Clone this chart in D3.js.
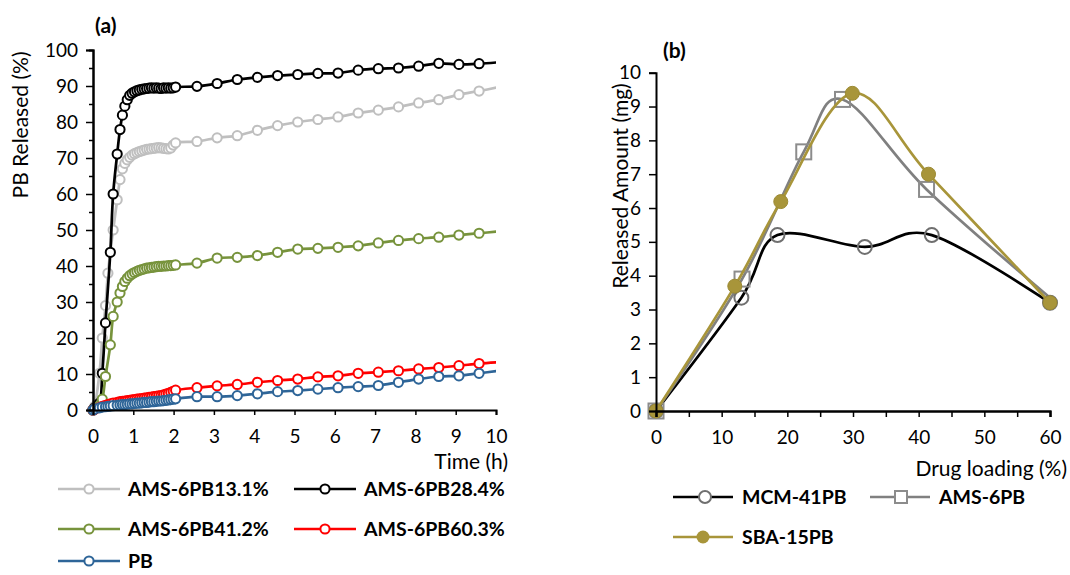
<!DOCTYPE html>
<html>
<head>
<meta charset="utf-8">
<script src="https://cdn.jsdelivr.net/npm/d3@7"></script>
<style>
  body { margin: 0; background: #fff; }
  text { font-family: Lato, "Open Sans", sans-serif; fill: #000; }
</style>
</head>
<body>
<svg id="chart" width="1070" height="575"></svg>
<script>
// ---- panel (a) data: release over time ----
var timeH = [0, 0.04, 0.16, 0.23, 0.31, 0.37, 0.43, 0.50, 0.60, 0.67,
  0.73, 0.79, 0.85, 0.91, 0.97, 1.03, 1.09, 1.15, 1.21, 1.27,
  1.33, 1.39, 1.45, 1.51, 1.57, 1.63, 1.69, 1.75, 1.81, 1.87,
  1.93, 1.99, 2.05,
  2.58, 3.08, 3.58, 4.08, 4.58, 5.08, 5.58, 6.08, 6.58, 7.08,
  7.58, 8.08, 8.58, 9.08, 9.58, 10.08];

var rel131 = [0, 1.0, 10.2, 20.0, 29.0, 38.0, null, 50.0, 58.4, 64.0,
  67.0, 68.5, 69.5, 70.2, 70.8, 71.2, 71.5, 71.8, 72.0, 72.2,
  72.4, 72.5, 72.6, 72.7, 72.8, 72.9, 72.8, 72.7, 72.6, 72.5,
  72.8, 73.6, 74.2,
  74.6, 75.6, 76.2, 77.7, 79.0, 80.0, 80.7, 81.4, 82.5, 83.3,
  84.2, 85.3, 86.2, 87.6, 88.6, 89.7];

var rel284 = [0, 0.6, 1.9, 10.2, 24.2, null, 43.8, 60.0, 71.1, 77.9,
  81.9, 84.4, 86.2, 87.4, 88.0, 88.4, 88.7, 88.9, 89.1, 89.2,
  89.3, 89.4, 89.5, 89.4, 89.5, 89.4, 89.3, 89.5, 89.4, 89.5,
  89.4, 89.5, 89.7,
  89.9, 90.7, 91.8, 92.4, 92.9, 93.2, 93.5, 93.6, 94.4, 94.8,
  95.0, 95.5, 96.3, 96.0, 96.2, 96.6];

var rel412 = [0, 0.3, 1.2, 3.0, 9.3, null, 18.1, 26.0, 30.0, 32.5,
  34.3, 35.7, 36.6, 37.3, 37.8, 38.2, 38.5, 38.8, 39.0, 39.2,
  39.4, 39.5, 39.6, 39.7, 39.8, 39.9, 39.9, 40.0, 40.0, 40.1,
  40.1, 40.2, 40.3,
  40.8, 42.2, 42.4, 42.9, 43.8, 44.7, 44.9, 45.2, 45.6, 46.4,
  47.1, 47.6, 48.0, 48.6, 49.1, 49.6];

var rel603 = [0, 0.2, 0.7, 1.0, 1.3, 1.5, 1.7, 1.9, 2.1, 2.3,
  2.4, 2.5, 2.6, 2.7, 2.8, 2.9, 3.0, 3.1, 3.2, 3.3,
  3.4, 3.5, 3.6, 3.7, 3.8, 3.9, 4.0, 4.2, 4.4, 4.6,
  4.9, 5.2, 5.5,
  6.2, 6.7, 7.1, 7.7, 8.2, 8.6, 9.2, 9.5, 10.2, 10.5,
  10.9, 11.4, 11.8, 12.3, 12.9, 13.3];

var relPB = [0, 0.3, 0.6, 0.8, 0.9, 1.0, 1.1, 1.2, 1.3, 1.4,
  1.5, 1.5, 1.6, 1.7, 1.7, 1.8, 1.9, 1.9, 2.0, 2.1,
  2.1, 2.2, 2.3, 2.3, 2.4, 2.5, 2.5, 2.6, 2.7, 2.8,
  2.9, 3.0, 3.1,
  3.7, 3.7, 4.0, 4.5, 5.1, 5.4, 5.8, 6.2, 6.5, 6.8,
  7.7, 8.6, 9.3, 9.5, 10.2, 10.9];

var namesA = ["AMS-6PB13.1%", "AMS-6PB28.4%", "AMS-6PB41.2%", "AMS-6PB60.3%", "PB"];
var colorsA = ["#bfbfbf", "#000000", "#77933c", "#ff0000", "#2e6598"];
var xTicksA = [0, 1, 2, 3, 4, 5, 6, 7, 8, 9, 10];
var yTicksA = [0, 10, 20, 30, 40, 50, 60, 70, 80, 90, 100];
var yMinorA = [5, 15, 25, 35, 45, 55, 65, 75, 85, 95];

// ---- panel (b) data: released amount vs drug loading ----
var mcmLoading = [0, 13.0, 18.5, 31.8, 42.0, 60];
var mcmAmount = [0, 3.35, 5.2, 4.85, 5.2, 3.2];
var amsLoading = [0, 13.1, 22.5, 28.4, 41.2, 60.3];
var amsAmount = [0, 3.9, 7.66, 9.21, 6.55, 3.3];
var sbaLoading = [0, 12.0, 19.0, 29.9, 41.5, 60];
var sbaAmount = [0, 3.69, 6.19, 9.39, 7.0, 3.2];

var xTicksB = [0, 10, 20, 30, 40, 50, 60];
var xMinorB = [5, 15, 25, 35, 45, 55];
var yTicksB = [0, 1, 2, 3, 4, 5, 6, 7, 8, 9, 10];

var svg = d3.select("#chart");
var defs = svg.append("defs");

// ================= panel (a) =================
var xA = d3.scaleLinear().domain([0, 10]).range([93, 496]);
var yA = d3.scaleLinear().domain([0, 100]).range([410, 50]);

defs.append("clipPath").attr("id", "clipA")
  .append("rect").attr("x", 0).attr("y", 0).attr("width", 496).attr("height", 575);

var seriesA = [rel131, rel284, rel412, rel603, relPB];

var lineA = d3.line()
  .x(function (d) { return xA(d[0]); })
  .y(function (d) { return yA(d[1]); })
  .curve(d3.curveCatmullRom.alpha(0.5));

var gA = svg.append("g");
seriesA.forEach(function (vals, i) {
  var pts = [];
  timeH.forEach(function (t, k) {
    if (vals[k] != null) pts.push([t, vals[k]]);
  });
  var g = gA.append("g");
  g.append("path")
    .attr("d", lineA(pts))
    .attr("clip-path", "url(#clipA)")
    .attr("fill", "none")
    .attr("stroke", colorsA[i])
    .attr("stroke-width", 2.7)
    .attr("stroke-linejoin", "round");
  g.selectAll("circle")
    .data(pts.filter(function (d) { return d[0] <= 10; }))
    .join("circle")
    .attr("cx", function (d) { return xA(d[0]); })
    .attr("cy", function (d) { return yA(d[1]); })
    .attr("r", 4.6)
    .attr("fill", "#fff")
    .attr("stroke", colorsA[i])
    .attr("stroke-width", 2);
});

// axes (a)
svg.append("g").attr("transform", "translate(93,0)")
  .call(d3.axisLeft(yA).tickValues(yTicksA).tickSize(7).tickPadding(8));
svg.append("g").attr("transform", "translate(93,0)")
  .call(d3.axisLeft(yA).tickValues(yMinorA).tickSize(4).tickFormat(""));
svg.append("g").attr("transform", "translate(0,410)")
  .call(d3.axisBottom(xA).tickValues(xTicksA).tickSize(5).tickPadding(15));

svg.append("text").attr("x", 95).attr("y", 33)
  .style("font-size", "21px").style("font-weight", "bold").text("(a)");
svg.append("text")
  .attr("transform", "translate(28,125) rotate(-90)")
  .attr("text-anchor", "middle")
  .style("font-size", "21px").text("PB  Released (%)");
svg.append("text").attr("x", 508).attr("y", 469)
  .attr("text-anchor", "end")
  .style("font-size", "21px").text("Time (h)");

// legend (a)
var legPosA = [[58, 489], [294, 489], [58, 529], [294, 529], [58, 561]];
namesA.forEach(function (n, i) {
  var p = legPosA[i];
  var g = svg.append("g").attr("transform", "translate(" + p[0] + "," + p[1] + ")");
  g.append("line").attr("x1", 0).attr("x2", 62).attr("y1", 0).attr("y2", 0)
    .attr("stroke", colorsA[i]).attr("stroke-width", 2.7);
  g.append("circle").attr("cx", 31).attr("cy", 0).attr("r", 4.6)
    .attr("fill", "#fff").attr("stroke", colorsA[i]).attr("stroke-width", 2);
  g.append("text").attr("x", 70).attr("y", 7)
    .style("font-size", "19.5px").style("font-weight", "bold").text(n);
});

// ================= panel (b) =================
var xB = d3.scaleLinear().domain([0, 60]).range([656, 1050]);
var yB = d3.scaleLinear().domain([0, 10]).range([411, 72.7]);

defs.append("clipPath").attr("id", "clipB")
  .append("rect").attr("x", 600).attr("y", 0).attr("width", 450).attr("height", 575);

var lineB = d3.line()
  .x(function (d) { return xB(d[0]); })
  .y(function (d) { return yB(d[1]); })
  .curve(d3.curveCatmullRom.alpha(0));

var inRange = function (d) { return d[0] <= 60; };
var mcm = d3.zip(mcmLoading, mcmAmount);
var ams = d3.zip(amsLoading, amsAmount);
var sba = d3.zip(sbaLoading, sbaAmount);

svg.append("path").attr("d", lineB(mcm)).attr("fill", "none")
  .attr("clip-path", "url(#clipB)")
  .attr("stroke", "#000").attr("stroke-width", 2.7);
svg.append("path").attr("d", lineB(ams)).attr("fill", "none")
  .attr("clip-path", "url(#clipB)")
  .attr("stroke", "#808080").attr("stroke-width", 2.7);

svg.append("g").selectAll("circle").data(mcm.filter(inRange)).join("circle")
  .attr("cx", function (d) { return xB(d[0]); })
  .attr("cy", function (d) { return yB(d[1]); })
  .attr("r", 7).attr("fill", "none")
  .attr("stroke", "#6f6f6f").attr("stroke-width", 2);
svg.append("g").selectAll("rect").data(ams.filter(inRange)).join("rect")
  .attr("x", function (d) { return xB(d[0]) - 7.5; })
  .attr("y", function (d) { return yB(d[1]) - 7.5; })
  .attr("width", 15).attr("height", 15).attr("fill", "none")
  .attr("stroke", "#8c8c8c").attr("stroke-width", 2);

svg.append("path").attr("d", lineB(sba)).attr("fill", "none")
  .attr("clip-path", "url(#clipB)")
  .attr("stroke", "#a8953a").attr("stroke-width", 2.7);
svg.append("g").selectAll("circle").data(sba.filter(inRange)).join("circle")
  .attr("cx", function (d) { return xB(d[0]); })
  .attr("cy", function (d) { return yB(d[1]); })
  .attr("r", 7).attr("fill", "#a8953a")
  .attr("stroke", "#9c8a33").attr("stroke-width", 1);

svg.append("g").attr("transform", "translate(656,0)")
  .call(d3.axisLeft(yB).tickValues(yTicksB).tickSize(7).tickPadding(8));
svg.append("g").attr("transform", "translate(0,411)")
  .call(d3.axisBottom(xB).tickValues(xTicksB).tickSize(6).tickPadding(14));
svg.append("g").attr("transform", "translate(0,411)")
  .call(d3.axisBottom(xB).tickValues(xMinorB).tickSize(6).tickFormat(""));

svg.append("text").attr("x", 663).attr("y", 58)
  .style("font-size", "21px").style("font-weight", "bold").text("(b)");
svg.append("text")
  .attr("transform", "translate(628,186) rotate(-90)")
  .attr("text-anchor", "middle")
  .style("font-size", "21px").text("Released Amount (mg)");
svg.append("text").attr("x", 1067).attr("y", 476)
  .attr("text-anchor", "end")
  .style("font-size", "21px").text("Drug loading (%)");

// legend (b)
var legB = [
  { name: "MCM-41PB", x: 673, y: 497, line: "#000", kind: "circle" },
  { name: "AMS-6PB", x: 870, y: 497, line: "#808080", kind: "square" },
  { name: "SBA-15PB", x: 673, y: 537, line: "#a8953a", kind: "dot" }
];
legB.forEach(function (d) {
  var g = svg.append("g").attr("transform", "translate(" + d.x + "," + d.y + ")");
  g.append("line").attr("x1", 0).attr("x2", 60).attr("y1", 0).attr("y2", 0)
    .attr("stroke", d.line).attr("stroke-width", 2.7);
  if (d.kind == "circle") {
    g.append("circle").attr("cx", 32).attr("cy", 0).attr("r", 6)
      .attr("fill", "#fff").attr("stroke", "#6f6f6f").attr("stroke-width", 2);
  } else if (d.kind == "square") {
    g.append("rect").attr("x", 25).attr("y", -6).attr("width", 12).attr("height", 12)
      .attr("fill", "#fff").attr("stroke", "#8c8c8c").attr("stroke-width", 2);
  } else {
    g.append("circle").attr("cx", 30).attr("cy", 0).attr("r", 6.5)
      .attr("fill", "#a8953a");
  }
  g.append("text").attr("x", 69).attr("y", 7)
    .style("font-size", "19.5px").style("font-weight", "bold").text(d.name);
});

// axis styling
svg.selectAll(".domain").attr("stroke", "#000").attr("stroke-width", 2);
svg.selectAll(".tick line").attr("stroke", "#000").attr("stroke-width", 1.5);
svg.selectAll(".tick text").style("font-size", "19px").style("font-family", "Lato, sans-serif");
</script>
</body>
</html>
